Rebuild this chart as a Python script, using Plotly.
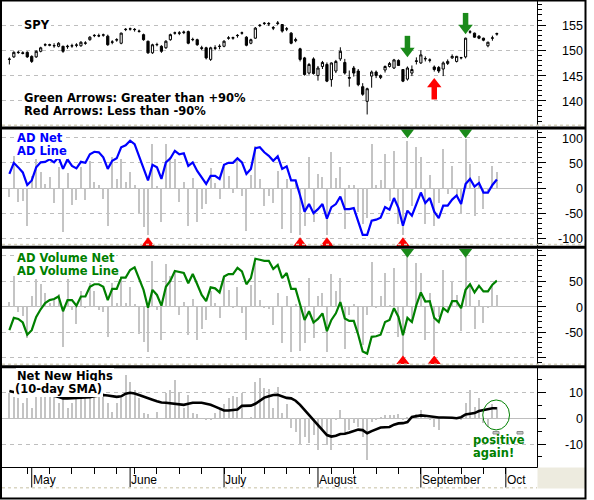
import plotly.graph_objects as go

# ---------------- data (trading-day index 0 = 24 Apr 2007) ----------------
spy_open = [148.2, 148.7, 149.55, 149.5, 149.6, 148.8, 148.7, 149.8, 151.05, 151.0,
            150.95, 150.8, 150.8, 150.7, 150.85, 151.0, 150.9, 151.4, 152.1, 152.9,
            152.9, 153.0, 152.8, 151.6, 152.1, 151.4, 154.1, 154.2, 154.15, 153.8,
            153.1, 151.8, 149.5, 151.1, 150.8, 150.5, 152.1, 153.4, 153.45, 153.5,
            153.7, 152.1, 152.1, 150.5, 150.5, 148.2, 150.5, 150.75, 150.8, 152.4,
            152.4, 152.9, 153.4, 152.6, 151.4, 152.4, 154.9, 155.3, 155.2, 154.5,
            155.3, 155.1, 154.2, 153.4, 151.9, 150.3, 148.5, 145.5, 148.3, 145.0,
            146.8, 147.2, 144.2, 145.9, 148.3, 147.6, 144.6, 146.5, 145.9, 142.8,
            139.9, 144.9, 145.7, 144.6, 146.1, 146.8, 146.5, 148.0, 146.2, 144.3,
            145.5, 147.8, 147.5, 148.3, 148.1, 146.7, 146.6, 146.3, 147.4, 148.5,
            147.8, 148.5, 148.7, 153.6, 153.4, 152.8, 152.4, 150.9, 152.4, 153.2]
spy_high = [148.6, 149.8, 149.9, 149.8, 149.8, 149.0, 150.0, 150.7, 151.4, 151.3,
            151.4, 151.6, 150.9, 151.1, 151.3, 151.4, 151.8, 151.8, 152.8, 153.2,
            153.3, 153.3, 153.1, 152.0, 152.4, 153.5, 154.4, 154.5, 154.4, 154.1,
            153.3, 151.9, 151.3, 151.5, 151.0, 152.0, 153.3, 153.7, 153.8, 153.9,
            153.9, 152.5, 152.3, 150.9, 150.7, 150.7, 151.0, 151.2, 152.0, 152.8,
            152.7, 153.2, 153.7, 152.8, 152.3, 154.6, 155.2, 155.6, 155.6, 154.8,
            155.8, 155.2, 154.6, 153.6, 152.5, 150.5, 148.7, 147.5, 148.6, 146.9,
            147.9, 147.6, 147.6, 148.1, 150.6, 148.3, 146.0, 146.9, 146.3, 143.5,
            142.6, 146.0, 146.0, 145.2, 147.0, 147.7, 148.3, 148.2, 146.3, 146.8,
            147.0, 148.6, 150.0, 148.8, 148.4, 147.0, 146.9, 147.8, 148.2, 149.2,
            148.9, 148.7, 152.5, 154.0, 153.5, 153.0, 152.5, 151.7, 152.9, 153.5]
spy_low = [147.2, 148.5, 149.3, 149.2, 148.5, 147.5, 148.5, 149.6, 150.8, 150.8,
           150.5, 150.6, 149.5, 150.3, 150.5, 150.6, 150.7, 151.1, 151.9, 152.6,
           152.6, 152.7, 150.9, 151.2, 151.7, 151.2, 153.8, 153.9, 153.7, 153.5,
           151.9, 149.3, 149.3, 150.8, 149.5, 150.3, 151.9, 153.1, 153.0, 153.2,
           151.2, 151.8, 150.9, 150.0, 148.2, 147.9, 150.0, 150.2, 150.6, 152.1,
           152.1, 152.5, 153.1, 150.8, 151.2, 152.3, 154.6, 155.0, 154.8, 154.0,
           155.0, 153.5, 153.8, 151.2, 151.6, 147.8, 145.0, 145.2, 145.2, 144.0,
           146.3, 143.7, 142.8, 145.5, 147.9, 145.2, 142.8, 144.8, 142.9, 141.0,
           137.3, 142.6, 144.5, 144.3, 145.6, 146.6, 146.3, 146.9, 143.7, 144.0,
           144.9, 147.2, 147.3, 147.8, 147.6, 145.8, 145.5, 144.9, 147.1, 148.3,
           147.6, 148.2, 148.4, 153.3, 152.5, 152.2, 151.8, 150.6, 151.9, 152.9]
spy_close = [148.25, 149.6, 149.6, 149.4, 148.7, 147.8, 149.8, 150.5, 151.1, 151.1,
             150.9, 151.4, 149.8, 150.8, 150.9, 151.05, 151.6, 151.45, 152.6, 152.95,
             152.85, 153.05, 151.1, 151.65, 152.05, 153.4, 154.15, 154.25, 154.1, 153.75,
             152.1, 149.5, 151.1, 151.15, 149.8, 151.8, 153.1, 153.45, 153.4, 153.6,
             151.4, 152.15, 151.1, 150.4, 148.5, 150.5, 150.4, 150.8, 151.8, 152.45,
             152.5, 152.95, 153.45, 151.0, 152.1, 154.4, 154.95, 155.35, 155.3, 154.4,
             155.4, 153.8, 154.25, 151.4, 152.1, 148.2, 145.2, 147.2, 145.4, 146.5,
             147.6, 143.9, 147.5, 147.8, 149.8, 145.5, 144.5, 145.5, 143.2, 141.3,
             142.4, 145.7, 145.0, 145.0, 146.8, 147.4, 148.1, 147.0, 143.9, 146.5,
             146.2, 147.9, 149.1, 148.35, 148.05, 146.2, 145.9, 147.5, 147.8, 148.8,
             148.8, 148.55, 152.4, 153.65, 152.6, 152.4, 152.0, 151.6, 152.45, 153.3]

ad_net = [-18, 63, -28, -25, -75, 24, 57, 31, 8, 21,
          -30, 41, -88, 30, -33, -23, 41, -23, 54, 11,
          5, -22, -75, 61, 18, 57, 11, 31, 6, -51,
          -78, -94, 87, 3, -68, 87, 61, 57, -27, 11,
          -75, 20, -68, -42, -31, 40, 10, -22, 41, 24,
          -9, 57, -15, -85, 25, 84, 18, -35, -15, -30,
          34, -81, 18, -89, 10, -94, -75, 61, -68, 28,
          21, -94, 72, 20, 41, -81, 5, 5, -48, -71,
          -60, 87, 5, 15, 67, -25, 74, -71, -94, 94,
          -35, 81, 61, -71, 25, -75, -30, 77, -12, 44,
          -15, -51, 97, 48, -55, 24, -42, -5, 44, 31]
ad_line = [28, 50, 41, 31, 6, 15, 41, 51, 52, 57,
           51, 61, 38, 57, 44, 39, 52, 50, 67, 72,
           71, 61, 38, 54, 59, 81, 85, 94, 87, 64,
           41, 15, 46, 41, 18, 51, 59, 74, 67, 69,
           44, 51, 34, 21, 8, 24, 24, 18, 46, 50,
           50, 59, 51, 28, 38, 79, 81, 71, 64, 54,
           63, 38, 43, 15, 15, -15, -47, -32, -50, -42,
           -32, -61, -38, -32, -17, -42, -42, -40, -65, -93,
           -93, -65, -63, -59, -38, -43, -20, -40, -75, -45,
           -55, -32, -9, -30, -20, -47, -60, -35, -35, -23,
           -15, -32, 8, 18, 3, 10, -9, -9, 6, 17]
adv_net = [9, 61, -10, -18, -62, 20, 62, 44, 26, 7,
           16, 24, -79, 62, -7, -33, 30, -3, 46, 30,
           -7, -10, -59, 46, 7, 56, 7, 39, 5, -53,
           -69, -89, 89, -7, -66, 84, 60, 69, -16, 10,
           -56, 16, -66, -43, -26, 30, 7, -23, 61, 33,
           -3, 39, -13, -66, 43, 86, 13, -3, -5, -36,
           26, -72, 20, -89, 5, -86, -72, 56, -62, 20,
           26, -88, 64, 31, 56, -82, -16, 5, -51, -76,
           -16, 88, -3, 20, 66, 3, 76, -59, -99, 100,
           -30, 86, 66, -66, 26, -95, -20, 72, -10, 51,
           23, -48, 97, 43, -43, 13, -31, -3, 43, 23]
adv_line = [-46, -22, -24, -31, -55, -46, -20, -5, 7, 13,
            15, 20, -9, 13, 13, 2, 20, 20, 39, 44,
            44, 39, 13, 35, 35, 57, 57, 72, 77, 56,
            33, -2, 33, 23, 2, 39, 51, 70, 68, 66,
            46, 64, 44, 23, 11, 38, 36, 28, 59, 64,
            64, 76, 69, 44, 56, 94, 92, 90, 90, 74,
            82, 56, 66, 35, 35, 3, -26, -9, -31, -24,
            -13, -48, -26, -13, 9, -23, -28, -28, -55, -88,
            -92, -59, -58, -55, -30, -26, -3, -20, -56, -22,
            -30, 3, 28, 10, 11, -22, -30, -3, -10, 11,
            11, -3, 33, 44, 28, 41, 30, 30, 43, 51]
nnh = [9.7, 8.4, 7.7, 5.8, 7.7, 3.9, 8.4, 9.7, 9.7, 11.4,
       8.4, 5.8, 7.7, 3.9, 5.8, 7.7, 9.0, 7.7, 8.4, 8.4,
       8.8, 9.7, 5.8, 2.6, 5.8, 7.7, 16.8, 14.2, 11.0, 7.7,
       1.9, 1.5, 0.0, 2.3, 0.0, 9.7, 11.0, 14.8, 9.7, 3.9,
       9.0, 1.9, 1.5, 0.0, -0.6, -0.6, 1.9, 3.9, 5.4, 7.7,
       8.8, 8.4, 9.7, 0.0, 0.6, 14.2, 15.5, 11.6, 11.4, 3.9,
       12.3, 1.9, 5.4, -3.6, -5.2, -10.3, -7.1, -9.7, -6.5, -12.3,
       -4.0, -10.3, -12.3, -0.6, 3.2, -6.5, -4.5, -1.9, -3.2, -7.1,
       -16.1, -1.3, -0.6, 0.6, 1.3, 1.3, 1.3, 1.5, -0.6, 0.3,
       1.0, 1.5, 3.2, 1.3, -0.6, -3.2, -4.5, 0.3, 0.0, 0.0,
       0.3, -0.6, 5.8, 11.0, 4.5, 7.7, -1.9, -3.2, 5.4, 4.5]
nnh_sma = [10.6, 10.0, 9.7, 9.7, 9.7, 9.7, 9.7, 9.5, 9.2, 9.0,
           8.7, 8.2, 7.7, 7.7, 7.7, 7.9, 8.0, 8.0, 8.2, 8.5,
           8.8, 9.0, 8.8, 8.5, 8.3, 8.5, 9.5, 9.9, 9.6, 9.0,
           8.3, 7.7, 7.2, 6.6, 6.1, 6.0, 5.8, 5.5, 5.2, 5.2,
           5.6, 6.0, 6.0, 6.0, 5.6, 5.2, 4.5, 3.6, 3.0, 3.0,
           3.1, 3.4, 4.8, 4.9, 4.9, 5.6, 6.8, 8.0, 8.5, 9.0,
           9.1, 8.4, 7.9, 7.7, 6.8, 5.2, 3.2, 1.3, -0.6, -2.5,
           -4.5, -6.5, -7.1, -6.8, -6.1, -6.0, -5.5, -5.0, -4.4, -4.6,
           -5.8, -5.0, -4.2, -3.6, -3.5, -3.4, -2.5, -2.0, -1.9, -1.5,
           0.5, 0.9, 1.1, 1.0, 0.7, 0.5, 0.3, 0.3, 0.3, 0.2,
           0.0, 0.4, 1.5, 1.8, 2.0, 2.8, 3.2, 3.6, 3.9, 3.9]

month_labels = ["May", "June", "July", "August", "September", "Oct"]
month_start = [5, 27, 48, 69, 92, 111]
week_start = [4, 9, 14, 19, 24, 28, 33, 38, 43, 48, 52, 57, 62, 67, 72, 77,
              82, 87, 92, 96, 101, 106, 111]

spy_green_idx = [89, 102]
spy_green_tip = [148.75, 153.28]
spy_red_idx = [95]
spy_red_tip = [144.43]

spy_ticks = [155, 150, 145, 140]
ad_ticks = [100, 50, 0, -50, -100]
adv_ticks = [50, 0, -50]
nnh_ticks = [10, 0, -10]

# ---------------- geometry ----------------
W, H = 594, 500
ML, MR, MT, MB = 2, 57, 1, 33
PW, PH = W - ML - MR, H - MT - MB


def px(X):
    return (X - ML) / PW


def py(Y):
    return (H - MB - Y) / PH


days = list(range(len(spy_close)))
XR = [-1.646, 117.97]

P1 = dict(top=1, bot=126, rng=[135.02, 159.76])
P2 = dict(top=129.5, bot=246, rng=[-115.3, 116.3])
P3 = dict(top=249, bot=365.2, rng=[-114.7, 113.1])
P4 = dict(top=368.2, bot=467, rng=[-18.9, 19.4])


def upp(p):  # units per pixel
    return (p['rng'][1] - p['rng'][0]) / (p['bot'] - p['top'])


GREEN = '#1A8A1A'
RED = '#FF0000'
BARC = '#C4C4C4'
TRI = 11.5

fig = go.Figure()

# Panel 1: candles
fig.add_trace(go.Candlestick(
    x=days, open=spy_open, high=spy_high, low=spy_low, close=spy_close,
    xaxis='x', yaxis='y', whiskerwidth=0,
    increasing=dict(line=dict(color='black', width=1), fillcolor='white'),
    decreasing=dict(line=dict(color='black', width=1), fillcolor='black'),
    hoverinfo='skip'))

u1 = upp(P1)
# green down arrows (head + stem)
fig.add_trace(go.Scatter(x=spy_green_idx, y=[t + 5.75 * u1 for t in spy_green_tip],
                         mode='markers', xaxis='x', yaxis='y',
                         marker=dict(symbol='triangle-down', size=TRI + 1, color=GREEN, line=dict(width=0))))
fig.add_trace(go.Scatter(x=spy_green_idx, y=[t + 13.8 * u1 for t in spy_green_tip],
                         mode='markers', xaxis='x', yaxis='y',
                         marker=dict(symbol='line-ns-open', size=10, color=GREEN,
                                     line=dict(width=5.5, color=GREEN))))
fig.add_trace(go.Scatter(x=spy_red_idx, y=[t - 5.75 * u1 for t in spy_red_tip],
                         mode='markers', xaxis='x', yaxis='y',
                         marker=dict(symbol='triangle-up', size=TRI + 1, color=RED, line=dict(width=0))))
fig.add_trace(go.Scatter(x=spy_red_idx, y=[t - 14.0 * u1 for t in spy_red_tip],
                         mode='markers', xaxis='x', yaxis='y',
                         marker=dict(symbol='line-ns-open', size=10, color=RED,
                                     line=dict(width=5.5, color=RED))))

# Panel 2: AD
fig.add_trace(go.Bar(x=days, y=ad_net, width=0.45, marker=dict(color=BARC, line=dict(width=0)),
                     xaxis='x', yaxis='y2'))
fig.add_trace(go.Scatter(x=days, y=ad_line, mode='lines', line=dict(color='#0000FF', width=2.2),
                         xaxis='x', yaxis='y2'))
ad_hi = [i for i, v in zip(days, ad_net) if v > 90]
ad_lo = [i for i, v in zip(days, ad_net) if v < -90]
u2 = upp(P2)
fig.add_trace(go.Scatter(x=ad_hi, y=[P2['rng'][1] - 2.9 * u2] * len(ad_hi), mode='markers',
                         xaxis='x', yaxis='y2', cliponaxis=False,
                         marker=dict(symbol='triangle-down', size=TRI, color=GREEN, line=dict(width=0))))
fig.add_trace(go.Scatter(x=ad_lo, y=[P2['rng'][0] + 2.9 * u2] * len(ad_lo), mode='markers',
                         xaxis='x', yaxis='y2', cliponaxis=False,
                         marker=dict(symbol='triangle-up', size=TRI, color=RED, line=dict(width=0))))

# Panel 3: AD volume
fig.add_trace(go.Bar(x=days, y=adv_net, width=0.45, marker=dict(color=BARC, line=dict(width=0)),
                     xaxis='x', yaxis='y3'))
fig.add_trace(go.Scatter(x=days, y=adv_line, mode='lines', line=dict(color='#008000', width=2.2),
                         xaxis='x', yaxis='y3'))
adv_hi = [i for i, v in zip(days, adv_net) if v > 90]
adv_lo = [i for i, v in zip(days, adv_net) if v < -90]
u3 = upp(P3)
fig.add_trace(go.Scatter(x=adv_hi, y=[P3['rng'][1] - 2.9 * u3] * len(adv_hi), mode='markers',
                         xaxis='x', yaxis='y3', cliponaxis=False,
                         marker=dict(symbol='triangle-down', size=TRI, color=GREEN, line=dict(width=0))))
fig.add_trace(go.Scatter(x=adv_lo, y=[P3['rng'][0] + 4.0 * u3] * len(adv_lo), mode='markers',
                         xaxis='x', yaxis='y3', cliponaxis=False,
                         marker=dict(symbol='triangle-up', size=TRI, color=RED, line=dict(width=0))))

# Panel 4: net new highs
fig.add_trace(go.Bar(x=days, y=nnh, width=0.45, marker=dict(color=BARC, line=dict(width=0)),
                     xaxis='x', yaxis='y4'))
fig.add_trace(go.Scatter(x=days, y=nnh_sma, mode='lines', line=dict(color='black', width=2.6),
                         xaxis='x', yaxis='y4'))


def yax(p, dtick, mdtick):
    return dict(domain=[py(p['bot']), py(p['top'])], range=p['rng'], side='right', anchor='x',
                showline=True, linecolor='black', linewidth=1,
                ticks='outside', ticklen=8, tickwidth=1, tickcolor='black',
                tickmode='linear', tick0=0, dtick=dtick,
                minor=dict(ticks='outside', ticklen=4, tickwidth=1, tickcolor='black',
                           tickmode='linear', tick0=0, dtick=mdtick, showgrid=False),
                showticklabels=False,
                showgrid=True, gridcolor='#BEBEBE', griddash='4px,4px', gridwidth=1,
                zeroline=True, zerolinecolor='#BEBEBE', zerolinewidth=1,
                fixedrange=True)


shapes = []
# month long ticks
for m in month_start:
    shapes.append(dict(type='line', xref='x', yref='paper', x0=m, x1=m, y0=py(467), y1=py(487.5),
                       line=dict(color='black', width=1)))
# beige dotted strips above separators and below labels
for Y in [125.2, 244.6, 364.3]:
    shapes.append(dict(type='line', xref='paper', yref='paper', x0=px(2), x1=px(585), y0=py(Y), y1=py(Y),
                       line=dict(color='#D9D5C2', width=1.5, dash='dot'), layer='above'))
shapes.append(dict(type='line', xref='paper', yref='paper', x0=px(2), x1=px(537), y0=py(487.8), y1=py(487.8),
                   line=dict(color='#D9D5C2', width=1.5, dash='dot'), layer='above'))
# hatched corner
shapes.append(dict(type='rect', xref='paper', yref='paper', x0=px(537.5), x1=px(585), y0=py(488.5), y1=py(467.5),
                   fillcolor='#EDEBDF', line=dict(width=0), layer='above'))
# separators
for Y in [128.0, 247.3, 366.7]:
    shapes.append(dict(type='line', xref='paper', yref='paper', x0=px(0), x1=px(586), y0=py(Y), y1=py(Y),
                       line=dict(color='black', width=3), layer='above'))
# outer frame
shapes.append(dict(type='rect', xref='paper', yref='paper', x0=px(1), x1=px(585.5), y0=py(498.5), y1=py(0.5),
                   line=dict(color='black', width=2), fillcolor='rgba(0,0,0,0)', layer='above'))
# green ellipse + grey handles
shapes.append(dict(type='circle', xref='x', yref='y4', x0=105.84, x1=111.83, y0=-4.53, y1=7.09,
                   line=dict(color='#008000', width=1)))
for X in [493, 517]:
    shapes.append(dict(type='rect', xref='paper', yref='paper', x0=px(X), x1=px(X + 6), y0=py(434), y1=py(431.5),
                       fillcolor='#C8C8C8', line=dict(color='#8C8C8C', width=1)))

ann = []


def label(text, X, Y, color, size=11.5, bg='white'):
    ann.append(dict(text=text, x=px(X), y=py(Y), xref='paper', yref='paper', xanchor='left',
                    yanchor='middle', showarrow=False, bgcolor=bg, borderpad=1, borderwidth=0,
                    font=dict(family='DejaVu Sans', size=size, color=color, weight='bold')))


label('SPY', 22.5, 25, 'black')
label('Green Arrows: Greater than +90%', 22.5, 98.5, 'black')
label('Red Arrows: Less than -90%', 22.5, 111, 'black')
label('AD Net', 15.5, 138, '#0000FF')
label('AD Line', 15.5, 151, '#0000FF')
label('AD Volume Net', 15.5, 257.5, '#008000')
label('AD Volume Line', 15.5, 270.5, '#008000')
label('Net New Highs', 15.5, 375.5, 'black')
label('(10-day SMA)', 13.5, 389, 'black')
label('positive', 471.5, 439.5, '#008000', bg='rgba(0,0,0,0)')
label('again!', 471.5, 452.5, '#008000', bg='rgba(0,0,0,0)')

for vals, yr in [(spy_ticks, 'y'), (ad_ticks, 'y2'), (adv_ticks, 'y3'), (nnh_ticks, 'y4')]:
    for v in vals:
        ann.append(dict(text=str(v), x=px(583), y=v, xref='paper', yref=yr, xanchor='right',
                        yanchor='middle', showarrow=False, borderpad=0, borderwidth=0, yshift=-1,
                        font=dict(family='Liberation Sans, Arial', size=12.5, color='black')))

for m, lab in zip(month_start, month_labels):
    ann.append(dict(text=lab, x=m, y=py(480), xref='x', yref='paper', xanchor='left', yanchor='middle',
                    showarrow=False, borderpad=0, borderwidth=0, xshift=1,
                    font=dict(family='Liberation Sans, Arial', size=12, color='black')))

fig.update_layout(
    width=W, height=H, margin=dict(l=ML, r=MR, t=MT, b=MB, pad=0),
    paper_bgcolor='white', plot_bgcolor='white', showlegend=False, hovermode=False,
    xaxis=dict(domain=[0, 1], range=XR, anchor='y4', showline=True, linecolor='black', linewidth=1,
               ticks='outside', ticklen=6, tickwidth=1, tickcolor='black', tickmode='array',
               tickvals=week_start, showticklabels=False, showgrid=False, zeroline=False,
               rangeslider=dict(visible=False), fixedrange=True),
    yaxis=yax(P1, 5, 1),
    yaxis2=yax(P2, 50, 10),
    yaxis3=yax(P3, 50, 10),
    yaxis4=yax(P4, 10, 5),
    shapes=shapes, annotations=ann, bargap=0,
)

fig.write_html('out.html', config=dict(displayModeBar=False, staticPlot=True))
